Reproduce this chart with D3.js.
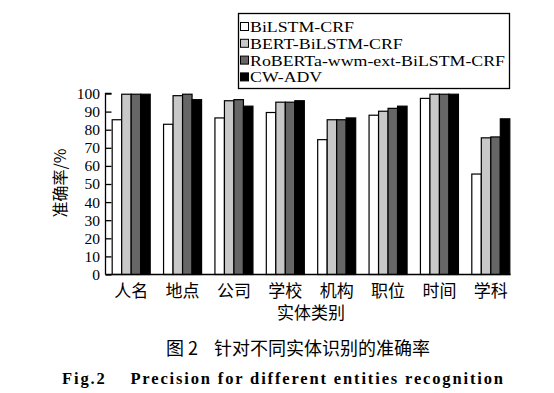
<!DOCTYPE html>
<html>
<head>
<meta charset="utf-8">
<script src="https://cdn.jsdelivr.net/npm/d3@7"></script>
<style>
  body { margin: 0; background: #fff; }
  svg { display: block; }
  .serif { font-family: "Liberation Serif", Tinos, "Times New Roman", Times, serif; }
  .cjk { font-family: "Noto Sans CJK SC", "Noto Sans CJK JP", sans-serif; }
</style>
</head>
<body>
<div id="chart"></div>
<script>
const categories = ["人名", "地点", "公司", "学校", "机构", "职位", "时间", "学科"]
const seriesNames = ["BiLSTM-CRF", "BERT-BiLSTM-CRF", "RoBERTa-wwm-ext-BiLSTM-CRF", "CW-ADV"]
const bilstm = [85.5, 83, 86.5, 89.5, 74.5, 88, 97.3, 55.5]
const bert = [99.6, 98.8, 96, 95.2, 85.5, 90.2, 99.6, 75.5]
const roberta = [99.6, 99.6, 96.6, 95.2, 85.5, 91.8, 99.6, 76]
const cwadv = [99.6, 96.6, 93, 96, 86.5, 93, 99.6, 86]
const yTicks = [0, 10, 20, 30, 40, 50, 60, 70, 80, 90, 100]
const colors = ["#ffffff", "#c8c8c8", "#666666", "#000000"]

const series = [bilstm, bert, roberta, cwadv]
const width = 554, height = 393

const svg = d3.select("#chart").append("svg")
  .attr("width", width)
  .attr("height", height)

const x0 = d3.scaleBand().domain(categories).range([105.5, 516.5]).paddingInner(0.26).paddingOuter(0.13)
const x1 = d3.scaleBand().domain(d3.range(4)).range([0, x0.bandwidth()])
const y = d3.scaleLinear().domain([0, 100]).range([274.5, 93.5])

// bars
const groups = svg.append("g")
  .selectAll("g")
  .data(categories)
  .join("g")
  .attr("transform", d => `translate(${x0(d)},0)`)

groups.selectAll("rect")
  .data((d, i) => series.map((s, k) => ({ k, v: s[i] })))
  .join("rect")
  .attr("x", d => x1(d.k))
  .attr("y", d => y(d.v))
  .attr("width", x1.bandwidth())
  .attr("height", d => y(0) - y(d.v))
  .attr("fill", d => colors[d.k])
  .attr("stroke", "#000")
  .attr("stroke-width", 1.2)

// y axis, ticks inward
const yAxis = svg.append("g")
  .attr("transform", "translate(105.5,0)")
  .call(d3.axisRight(y).tickValues(yTicks).tickSize(6).tickFormat(""))
yAxis.select(".domain").attr("d", `M6,${y(100)}H0V${y(0)}`).attr("stroke-width", 1.3)
yAxis.selectAll(".tick line").attr("stroke-width", 1.3)

svg.append("g")
  .selectAll("text")
  .data(yTicks)
  .join("text")
  .attr("class", "serif")
  .attr("x", 100)
  .attr("y", d => y(d))
  .attr("dy", "0.35em")
  .attr("text-anchor", "end")
  .attr("font-size", 15.5)
  .text(d => d)

// x axis
svg.append("line")
  .attr("x1", 105.5).attr("x2", 510.5)
  .attr("y1", y(0)).attr("y2", y(0))
  .attr("stroke", "#000").attr("stroke-width", 1.3)

svg.append("g")
  .selectAll("text")
  .data(categories)
  .join("text")
  .attr("class", "cjk")
  .attr("x", d => x0(d) + x0.bandwidth() / 2)
  .attr("y", 297)
  .attr("text-anchor", "middle")
  .attr("font-size", 17)
  .text(d => d)

svg.append("text")
  .attr("class", "cjk")
  .attr("x", 311).attr("y", 319)
  .attr("text-anchor", "middle")
  .attr("font-size", 17)
  .text("实体类别")

svg.append("text")
  .attr("class", "cjk")
  .attr("transform", "translate(66,183) rotate(-90)")
  .attr("text-anchor", "middle")
  .attr("font-size", 16)
  .text("准确率/%")

// legend
svg.append("rect")
  .attr("x", 238.5).attr("y", 13.5).attr("width", 271).attr("height", 75)
  .attr("fill", "#fff").attr("stroke", "#000").attr("stroke-width", 1.3)

const items = svg.append("g")
  .selectAll("g")
  .data(seriesNames)
  .join("g")
  .attr("transform", (d, i) => `translate(240,${32 + i * 16.8})`)
items.append("rect")
  .attr("x", 0.5).attr("y", -9.5).attr("width", 8).attr("height", 8)
  .attr("fill", (d, i) => colors[i])
  .attr("stroke", "#000").attr("stroke-width", 1)
const legendText = items.append("text")
  .attr("class", "serif")
  .attr("x", 10).attr("y", 0)
  .attr("font-size", 14)
  .text(d => d)

// stretch the legend labels so the longest one fills the box like the original
const lens = legendText.nodes().map(n => n.getComputedTextLength())
const stretch = 255 / d3.max(lens)
legendText
  .attr("textLength", (d, i) => lens[i] * stretch)
  .attr("lengthAdjust", "spacingAndGlyphs")

// captions
svg.append("text")
  .attr("class", "cjk")
  .attr("x", 298).attr("y", 355)
  .attr("text-anchor", "middle")
  .attr("font-size", 18)
  .attr("xml:space", "preserve")
  .text("图 2    针对不同实体识别的准确率")

svg.append("text")
  .attr("class", "serif")
  .attr("x", 62).attr("y", 384)
  .attr("font-weight", "bold")
  .attr("font-size", 16.5)
  .attr("textLength", 441)
  .attr("lengthAdjust", "spacing")
  .attr("xml:space", "preserve")
  .text("Fig.2    Precision for different entities recognition")
</script>
</body>
</html>
